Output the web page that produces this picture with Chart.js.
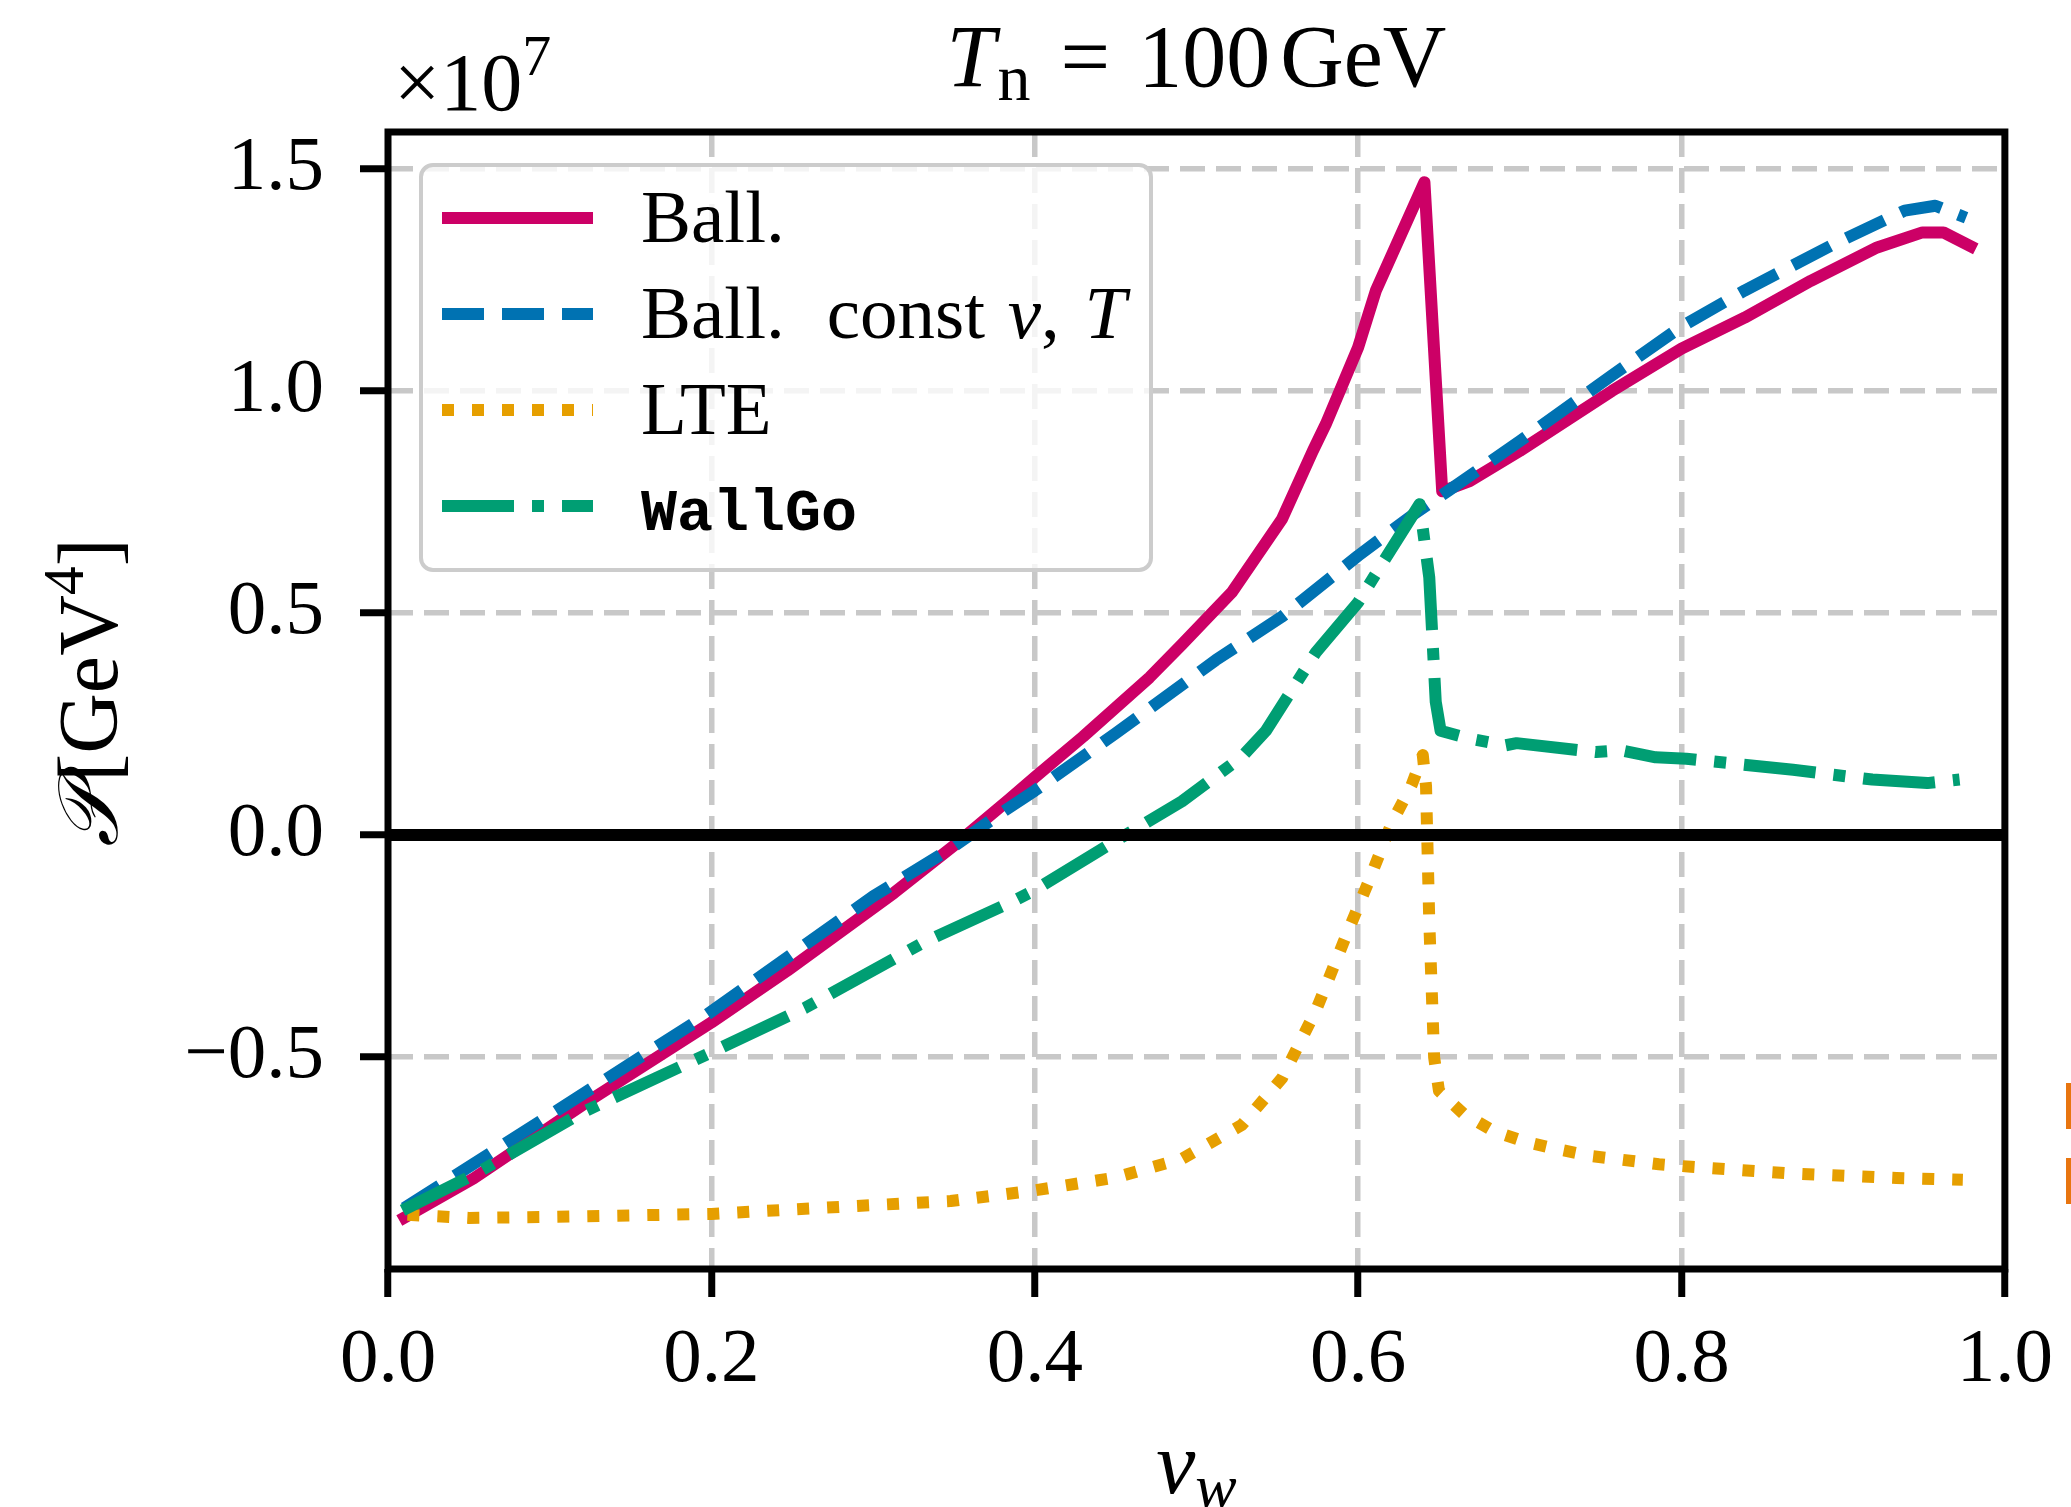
<!DOCTYPE html>
<html>
<head>
<meta charset="utf-8">
<script src="https://cdn.jsdelivr.net/npm/chart.js@4.4.0/dist/chart.umd.min.js"></script>
<style>
  html, body { margin: 0; padding: 0; background: #fff; }
  #wrap { position: relative; width: 2071px; height: 1507px; }
  .borde { position: absolute; left: 2066px; width: 5px; height: 46px; background: #e8750f; }
</style>
</head>
<body>
<div id="wrap">
  <canvas id="presion" width="2071" height="1507"></canvas>
  <div class="borde" style="top:1083px"></div>
  <div class="borde" style="top:1158px"></div>
</div>
<script>
// valores en unidades de 1e7 GeV^4
let nombres = ["Ball.", "Ball.  const v, T", "LTE", "WallGo"];

let ballX = [0.007, 0.053, 0.121, 0.2, 0.247, 0.313, 0.351, 0.384, 0.4, 0.43, 0.471, 0.491, 0.522, 0.553, 0.572, 0.58, 0.6, 0.611, 0.641, 0.652, 0.669, 0.70, 0.757, 0.80, 0.839, 0.88, 0.921, 0.949, 0.962, 0.982];
let ballY = [-0.868, -0.773, -0.606, -0.422, -0.305, -0.130, -0.021, 0.08, 0.13, 0.222, 0.355, 0.429, 0.547, 0.712, 0.865, 0.925, 1.098, 1.226, 1.47, 0.774, 0.797, 0.865, 1.0, 1.095, 1.165, 1.248, 1.323, 1.357, 1.357, 1.32];

let constX = [0.01, 0.096, 0.197, 0.30, 0.347, 0.381, 0.4, 0.45, 0.512, 0.553, 0.6, 0.635, 0.656, 0.70, 0.757, 0.80, 0.839, 0.894, 0.938, 0.957, 0.976];
let constY = [-0.84, -0.64, -0.405, -0.138, -0.033, 0.054, 0.10, 0.229, 0.394, 0.492, 0.629, 0.724, 0.776, 0.887, 1.035, 1.145, 1.226, 1.33, 1.406, 1.417, 1.39];

let lteX = [0.012, 0.05, 0.096, 0.2, 0.285, 0.348, 0.4, 0.45, 0.491, 0.528, 0.553, 0.574, 0.591, 0.607, 0.621, 0.633, 0.640, 0.642, 0.644, 0.647, 0.650, 0.665, 0.684, 0.703, 0.723, 0.745, 0.786, 0.806, 0.869, 0.933, 0.974];
let lteY = [-0.855, -0.862, -0.86, -0.853, -0.836, -0.824, -0.80, -0.771, -0.729, -0.653, -0.547, -0.394, -0.241, -0.10, 0.029, 0.112, 0.18, 0.11, -0.194, -0.5, -0.576, -0.627, -0.667, -0.69, -0.707, -0.723, -0.741, -0.747, -0.762, -0.772, -0.776];

let wallX = [0.009, 0.053, 0.121, 0.2, 0.258, 0.331, 0.386, 0.4, 0.44, 0.456, 0.491, 0.528, 0.543, 0.574, 0.6, 0.615, 0.638, 0.644, 0.648, 0.651, 0.668, 0.691, 0.698, 0.747, 0.762, 0.784, 0.803, 0.869, 0.918, 0.952, 0.972];
let wallY = [-0.845, -0.765, -0.623, -0.489, -0.389, -0.242, -0.15, -0.124, -0.035, 0.0, 0.076, 0.176, 0.235, 0.412, 0.524, 0.612, 0.745, 0.58, 0.30, 0.235, 0.218, 0.202, 0.207, 0.187, 0.191, 0.175, 0.172, 0.147, 0.125, 0.117, 0.125];

let xTicks = [0, 0.2, 0.4, 0.6, 0.8, 1.0];
let xTickLabels = ["0.0", "0.2", "0.4", "0.6", "0.8", "1.0"];
let yTicks = [-0.5, 0, 0.5, 1.0, 1.5];
let yTickLabels = ["\u22120.5", "0.0", "0.5", "1.0", "1.5"];

const serif = "'Liberation Serif', 'DejaVu Serif', serif";
const lw = 12;

function puntos(xs, ys) {
    return xs.map((x, i) => ({ x: x, y: ys[i] }));
}

// texto con trozos (cursiva, subindices)
function texto(ctx, partes, x, y, align) {
    let w = 0;
    partes.forEach(p => {
        ctx.font = p.f;
        p.w = ctx.measureText(p.t).width;
        w += p.w + (p.g || 0);
    });
    let cx = align === "center" ? x - w / 2 : x;
    partes.forEach(p => {
        ctx.font = p.f;
        ctx.fillText(p.t, cx, y + (p.dy || 0));
        cx += p.w + (p.g || 0);
    });
}

let rotulos = [
    [{ t: "Ball.", f: "75px " + serif }],
    [{ t: "Ball.", f: "75px " + serif, g: 42 }, { t: "const ", f: "75px " + serif, g: 4 }, { t: "v", f: "italic 75px " + serif },
     { t: ", ", f: "75px " + serif, g: 6 }, { t: "T", f: "italic 75px " + serif }],
    [{ t: "LTE", f: "75px " + serif }],
    [{ t: "WallGo", f: "bold 60px 'Liberation Mono', 'DejaVu Sans Mono', monospace" }]
];

const marco = {
    id: "marco",
    afterDatasetsDraw(chart) {
        const { ctx, chartArea: a, scales } = chart;
        ctx.save();

        // linea del cero
        const y0 = scales.y.getPixelForValue(0);
        ctx.strokeStyle = "#000";
        ctx.lineWidth = 12;
        ctx.beginPath();
        ctx.moveTo(a.left, y0);
        ctx.lineTo(a.right, y0);
        ctx.stroke();

        // leyenda
        const lx = a.left + 33, ly = a.top + 33;
        ctx.beginPath();
        ctx.roundRect(lx, ly, 730, 405, 12);
        ctx.fillStyle = "rgba(255,255,255,0.8)";
        ctx.fill();
        ctx.strokeStyle = "#cccccc";
        ctx.lineWidth = 4;
        ctx.stroke();

        chart.data.datasets.forEach((ds, i) => {
            const cy = ly + 53 + i * 96;
            ctx.setLineDash(ds.borderDash || []);
            ctx.lineCap = "butt";
            ctx.strokeStyle = ds.borderColor;
            ctx.lineWidth = ds.borderWidth;
            ctx.beginPath();
            ctx.moveTo(lx + 21, cy);
            ctx.lineTo(lx + 172, cy);
            ctx.stroke();
            ctx.setLineDash([]);
            ctx.fillStyle = "#000";
            ctx.textBaseline = "alphabetic";
            ctx.textAlign = "left";
            texto(ctx, rotulos[i], lx + 220, cy + 24, "left");
        });

        // marco
        ctx.strokeStyle = "#000";
        ctx.lineWidth = 7;
        ctx.strokeRect(a.left, a.top, a.right - a.left, a.bottom - a.top);
        ctx.restore();
    },
    afterDraw(chart) {
        const { ctx, chartArea: a } = chart;
        const mid = (a.left + a.right) / 2;
        ctx.save();
        ctx.fillStyle = "#000";
        ctx.textBaseline = "alphabetic";
        ctx.textAlign = "left";

        // titulo
        texto(ctx, [
            { t: "T", f: "italic 88px " + serif, g: 2 },
            { t: "n", f: "66px " + serif, dy: 14, g: 30 },
            { t: "=", f: "88px " + serif, g: 28 },
            { t: "100", f: "88px " + serif, g: 10 },
            { t: "GeV", f: "88px " + serif }
        ], mid, 86, "center");

        // factor de escala
        texto(ctx, [
            { t: "\u00d710", f: "82px " + serif },
            { t: "7", f: "58px " + serif, dy: -35 }
        ], a.left + 6, 110, "left");

        // eje x
        texto(ctx, [
            { t: "v", f: "italic 88px " + serif },
            { t: "w", f: "italic 62px " + serif, dy: 14 }
        ], mid, 1493, "center");

        // eje y
        ctx.translate(117, (a.top + a.bottom) / 2 - 8);
        ctx.rotate(-Math.PI / 2);
        texto(ctx, [
            { t: "\ud835\udcab", f: "italic 84px 'DejaVu Sans', " + serif, g: 4 },
            { t: "[GeV", f: "84px " + serif },
            { t: "4", f: "58px " + serif, dy: -34 },
            { t: "]", f: "84px " + serif }
        ], 0, 0, "center");
        ctx.restore();
    }
};

let ctx = document.getElementById("presion").getContext("2d");

new Chart(ctx, {
    type: "line",
    data: {
        datasets: [
            { label: nombres[0], data: puntos(ballX, ballY), borderColor: "#cc0066", borderWidth: lw, order: 3, borderCapStyle: "butt" },
            { label: nombres[1], data: puntos(constX, constY), borderColor: "#0072b2", borderWidth: lw, borderDash: [42, 18], order: 2 },
            { label: nombres[2], data: puntos(lteX, lteY), borderColor: "#e69f00", borderWidth: lw, borderDash: [12, 18], order: 1 },
            { label: nombres[3], data: puntos(wallX, wallY), borderColor: "#009e73", borderWidth: lw, borderDash: [72, 18, 12, 18], order: 0 }
        ]
    },
    options: {
        responsive: false,
        animation: false,
        devicePixelRatio: 1,
        layout: { padding: { left: 0, right: 64, top: 132, bottom: 0 } },
        elements: {
            point: { radius: 0 },
            line: { tension: 0, borderJoinStyle: "round", fill: false }
        },
        plugins: {
            legend: { display: false },
            tooltip: { enabled: false }
        },
        scales: {
            x: {
                type: "linear",
                min: 0,
                max: 1,
                afterBuildTicks: s => { s.ticks = xTicks.map(v => ({ value: v })); },
                afterFit: s => { s.height = 238; },
                grid: { color: "#c8c8c8", lineWidth: 5.5, tickColor: "#000", tickWidth: 7, tickLength: 28, tickBorderDash: [] },
                border: { display: false, dash: [25, 11] },
                ticks: {
                    font: { family: serif, size: 77 },
                    color: "#000",
                    padding: 18,
                    maxRotation: 0,
                    callback: (v, i) => xTickLabels[i]
                }
            },
            y: {
                type: "linear",
                min: -0.977,
                max: 1.583,
                afterBuildTicks: s => { s.ticks = yTicks.map(v => ({ value: v })); },
                afterFit: s => { s.width = 388; },
                grid: { color: "#c8c8c8", lineWidth: 5.5, tickColor: "#000", tickWidth: 7, tickLength: 28, tickBorderDash: [] },
                border: { display: false, dash: [25, 11] },
                ticks: {
                    font: { family: serif, size: 77 },
                    color: "#000",
                    padding: 36,
                    callback: (v, i) => yTickLabels[i]
                }
            }
        }
    },
    plugins: [marco]
});
</script>
</body>
</html>
